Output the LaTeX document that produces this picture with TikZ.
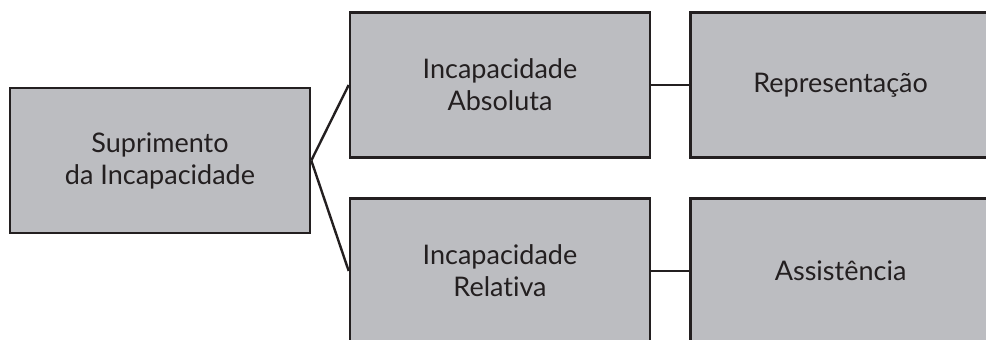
\documentclass[tikz,border=0pt]{standalone}
\usepackage{fontspec}
\setmainfont{Lato}[Ligatures={NoCommon}]
\usetikzlibrary{positioning}
\definecolor{boxgray}{RGB}{188,189,193}
\definecolor{inkdark}{RGB}{35,31,32}
\tikzset{box/.style={rectangle, draw=inkdark, fill=boxgray, line width=2.6pt,
    minimum width=300pt, minimum height=145pt, align=center, text=inkdark,
    font=\fontsize{27}{32}\selectfont, inner sep=0pt},
link/.style={draw=inkdark, line width=2.4pt}}

\begin{document}
\begin{tikzpicture}[x=1pt,y=-1pt]

    \useasboundingbox (0,0) rectangle (986,340);
    \clip (0,0) rectangle (986,340);

    \node[box] (sup) at (160,160.5) {Suprimento\\da Incapacidade};

    \node[box] (abs) at (500,85) {Incapacidade\\Absoluta};
    \node[box, right=38pt of abs] (rep) {Representa\c{c}\~ao};

    \node[box] (rel) at (500,271) {Incapacidade\\Relativa};
    \node[box, right=38pt of rel] (ass) {Assist\^encia};

    \draw[link] (sup.east) -- (abs.west);
    \draw[link] (sup.east) -- (rel.west);

    \foreach \a/\b in {abs/rep, rel/ass}
    \draw[link] (\a) -- (\b);

\end{tikzpicture}
\end{document}
